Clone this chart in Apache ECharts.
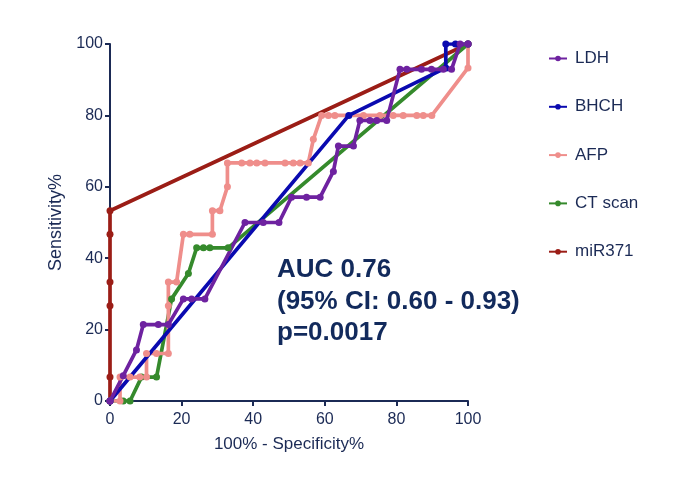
<!DOCTYPE html>
<html>
<head>
<meta charset="utf-8">
<script src="https://cdn.jsdelivr.net/npm/echarts@6/dist/echarts.min.js"></script>
<style>html,body{margin:0;padding:0;background:#fff;}#c{width:682px;height:478px;}</style>
</head>
<body>
<div id="c"></div>
<script>
// ROC curves: [100% - Specificity%, Sensitivity%]
const LDH = [[0,0],[3.7,7.1],[7.4,14.3],[9.3,21.4],[13.5,21.4],[16.3,21.4],[20.5,28.6],[22.8,28.6],[26.5,28.6],[37.7,50],[42.8,50],[47.2,50],[50.7,57.1],[54.9,57.1],[58.7,57.1],[62.4,64.3],[63.8,71.4],[68,71.4],[69.8,78.6],[72.6,78.6],[74.5,78.6],[77.3,78.6],[81,92.9],[82.9,92.9],[87,92.9],[89.8,92.9],[93.1,92.9],[95.4,92.9],[97.8,100],[100,100]];
const BHCH = [[0,0],[66.7,80],[93.8,93.3],[93.8,100],[96.5,100],[100,100]];
const AFP = [[0,0],[2.8,0],[2.8,6.7],[5.6,6.7],[8.3,6.7],[10.2,6.7],[10.2,13.3],[13,13.3],[16.3,13.3],[16.3,26.7],[16.3,33.3],[18.6,33.3],[20.5,46.7],[22.3,46.7],[28.6,46.7],[28.6,53.3],[30.7,53.3],[32.8,60],[32.8,66.7],[36.8,66.7],[39.1,66.7],[41,66.7],[43.3,66.7],[48.9,66.7],[51.2,66.7],[53.1,66.7],[55.4,66.7],[56.8,73.3],[59.1,80],[61,80],[62.8,80],[70.8,80],[75.4,80],[79.1,80],[81.9,80],[85.7,80],[87.5,80],[89.9,80],[100,93.3],[100,100]];
const CT = [[0,0],[3.7,0],[5.6,0],[8.8,6.7],[13,6.7],[17.2,28.6],[21.9,35.7],[24.2,42.9],[26.1,42.9],[27.9,42.9],[33,42.9],[100,100]];
const MIR371 = [[0,0],[0,6.7],[0,26.7],[0,33.3],[0,46.7],[0,53.3],[100,100]];
const xTicks = [0,20,40,60,80,100];
const yTicks = [0,20,40,60,80,100];
const annotation = ['AUC 0.76','(95% CI: 0.60 - 0.93)','p=0.0017'];

const navy = '#1b2a55';
const font = 'Liberation Sans, Arial, sans-serif';
function s(name, data, color){
  return {name, type:'line', data, symbol:'circle', symbolSize:7, showSymbol:true,
    lineStyle:{width:3.7,color}, itemStyle:{color}, animation:false, z:2};
}
const chart = echarts.init(document.getElementById('c'));
chart.setOption({
  animation:false,
  grid:{left:110,right:214,top:44,bottom:77},
  xAxis:{type:'value',min:0,max:100,interval:20,
    name:'100% - Specificity%',nameLocation:'middle',nameGap:35,
    nameTextStyle:{color:navy,fontSize:17,fontFamily:font},
    axisLine:{lineStyle:{color:navy,width:2}},
    axisTick:{show:true,length:5,lineStyle:{color:navy,width:2}},
    axisLabel:{color:navy,fontSize:16,fontFamily:font,margin:11,formatter:v=>xTicks.includes(v)?String(v):''},
    splitLine:{show:false}},
  yAxis:{type:'value',min:0,max:100,interval:20,
    name:'Sensitivity%',nameLocation:'middle',nameGap:38,nameRotate:90,
    nameTextStyle:{color:navy,fontSize:18,fontFamily:font},
    axisLine:{lineStyle:{color:navy,width:2}},
    axisTick:{show:true,length:5,lineStyle:{color:navy,width:2}},
    axisLabel:{color:navy,fontSize:16,fontFamily:font,margin:7,formatter:v=>yTicks.includes(v)?String(v):''},
    splitLine:{show:false}},
  legend:{orient:'vertical',left:543,top:45,itemWidth:18,itemHeight:7,itemGap:31.3,
    data:['LDH','BHCH','AFP','CT scan','miR371'],
    textStyle:{color:navy,fontSize:17,lineHeight:17,fontFamily:font,padding:[0,0,0,3]}},
  graphic:annotation.map((t,i)=>({type:'text',left:277,top:257+i*31.5,
    style:{text:t,fill:'#122a5c',font:'bold 26px '+font}})),
  series:[
    s('miR371',MIR371,'#9b1d16'),
    s('CT scan',CT,'#358a2c'),
    s('AFP',AFP,'#ef8e8b'),
    s('BHCH',BHCH,'#0a0ab0'),
    s('LDH',LDH,'#6e22a0')
  ]
});
</script>
</body>
</html>
